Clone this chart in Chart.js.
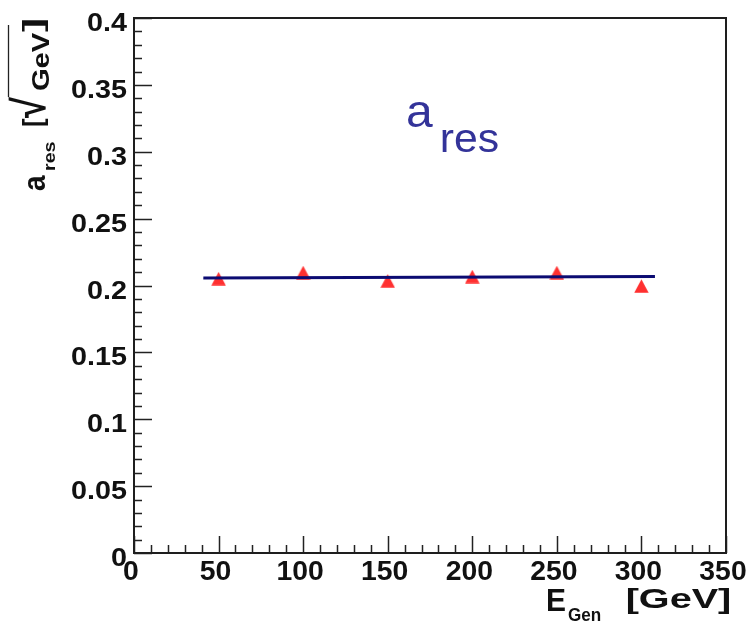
<!DOCTYPE html>
<html>
<head>
<meta charset="utf-8">
<script src="https://cdn.jsdelivr.net/npm/chart.js@4/dist/chart.umd.min.js"></script>
<style>
  html, body { margin: 0; padding: 0; background: #fff; }
  #wrap { width: 751px; height: 621px; }
</style>
</head>
<body>
<div id="wrap"><canvas id="c" width="751" height="621"></canvas></div>
<script>
// Generated energies [GeV] and fitted stochastic term a_res [sqrt(GeV)]
const energies = [50, 100, 150, 200, 250, 300];
const aRes = [0.2051, 0.2097, 0.2035, 0.2067, 0.2097, 0.1996];

// Straight-line fit over the measured points
const fitX = [41, 308];
const fitY = [0.2057, 0.2068];

// Axis ticks and their labels
const xTicks = [0, 50, 100, 150, 200, 250, 300, 350];
const xTickLabels = ['0', '50', '100', '150', '200', '250', '300', '350'];
const yTicks = [0, 0.05, 0.1, 0.15, 0.2, 0.25, 0.3, 0.35, 0.4];
const yTickLabels = ['0', '0.05', '0.1', '0.15', '0.2', '0.25', '0.3', '0.35', '0.4'];

const FONT = '"Liberation Sans", Arial, Helvetica, sans-serif';

// Upward triangle marker, centred on its bounding box
function makeTriangle(w, h, color) {
  const cv = document.createElement('canvas');
  cv.width = w;
  cv.height = h;
  const g = cv.getContext('2d');
  g.fillStyle = color;
  g.beginPath();
  g.moveTo(w / 2, 0.3);
  g.lineTo(w - 0.3, h - 0.3);
  g.lineTo(0.3, h - 0.3);
  g.closePath();
  g.fill();
  return cv;
}
const triangleMarker = makeTriangle(15, 14, '#ff3030');

// Draw text scaled so its ink box fills [L,R] x [T,B]
function fitInk(ctx, text, font, L, T, R, B) {
  ctx.save();
  ctx.font = font;
  ctx.textAlign = 'left';
  ctx.textBaseline = 'alphabetic';
  const m = ctx.measureText(text);
  const w = m.actualBoundingBoxLeft + m.actualBoundingBoxRight;
  const h = m.actualBoundingBoxAscent + m.actualBoundingBoxDescent;
  ctx.translate(L, T);
  ctx.scale((R - L) / w, (B - T) / h);
  ctx.fillText(text, m.actualBoundingBoxLeft, m.actualBoundingBoxAscent);
  ctx.restore();
}

// Text with a horizontal stretch factor
function stretchText(ctx, text, font, x, y, sx, align) {
  ctx.save();
  ctx.font = font;
  ctx.textBaseline = 'alphabetic';
  ctx.textAlign = 'left';
  const w = ctx.measureText(text).width * sx;
  let x0 = x;
  if (align === 'right') x0 = x - w;
  else if (align === 'center') x0 = x - w / 2;
  ctx.translate(x0, y);
  ctx.scale(sx, 1);
  ctx.fillText(text, 0, 0);
  ctx.restore();
}

const frameAndAxes = {
  id: 'frameAndAxes',
  beforeDraw(chart) {
    const ctx = chart.ctx;
    ctx.save();
    ctx.fillStyle = '#fff';
    ctx.fillRect(0, 0, chart.width, chart.height);
    ctx.restore();
  },
  afterDraw(chart) {
    const ctx = chart.ctx;
    const a = chart.chartArea;
    const xs = chart.scales.x, ys = chart.scales.y;

    ctx.save();
    // ticks on the left and bottom axes, pointing inward
    ctx.strokeStyle = '#222';
    ctx.lineWidth = 1.5;
    ctx.beginPath();
    for (let i = 0; i <= 40; i++) {
      const v = i * 0.01;
      const py = Math.round(ys.getPixelForValue(v)) + 0.5;
      const len = (i % 5 === 0) ? 18 : 8;
      ctx.moveTo(a.left, py);
      ctx.lineTo(a.left + len, py);
    }
    for (let i = 0; i <= 35; i++) {
      const v = i * 10;
      const px = Math.round(xs.getPixelForValue(v)) + 0.5;
      const len = (i % 5 === 0) ? 17 : 8;
      ctx.moveTo(px, a.bottom);
      ctx.lineTo(px, a.bottom - len);
    }
    ctx.stroke();

    // frame
    ctx.strokeStyle = '#1e1e1e';
    ctx.lineWidth = 2;
    ctx.strokeRect(a.left, a.top, a.right - a.left, a.bottom - a.top);

    // tick labels
    ctx.fillStyle = '#111';
    yTicks.forEach((v, i) => {
      const py = ys.getPixelForValue(v);
      stretchText(ctx, yTickLabels[i], 'bold 25px ' + FONT, 127, py + 13, 1.15, 'right');
    });
    xTicks.forEach((v, i) => {
      const px = xs.getPixelForValue(v);
      stretchText(ctx, xTickLabels[i], 'bold 27px ' + FONT, px - 3, 580, 1.05, 'center');
    });

    // x-axis title: E_Gen [GeV]
    fitInk(ctx, 'E', 'bold 30px ' + FONT, 548, 590, 565, 611);
    stretchText(ctx, 'Gen', 'bold 18px ' + FONT, 568, 621, 0.95, 'left');
    fitInk(ctx, '[GeV]', 'bold 30px ' + FONT, 627, 588, 730, 614);

    // y-axis title: a_res [sqrt(GeV)], rotated; (u, v) -> image (v, -u)
    ctx.save();
    ctx.rotate(-Math.PI / 2);
    fitInk(ctx, 'a', 'bold 28px ' + FONT, -191, 28, -175, 45);
    fitInk(ctx, 'res', 'bold 19px ' + FONT, -170, 45, -142, 55);
    fitInk(ctx, '[', 'bold 26px ' + FONT, -126, 21, -118, 47);
    fitInk(ctx, '\u221A', 'bold 26px ' + FONT, -118, 8, -96, 47);
    fitInk(ctx, 'GeV', 'bold 26px ' + FONT, -90, 32, -32, 49);
    fitInk(ctx, ']', 'bold 26px ' + FONT, -32, 21, -19, 47);
    ctx.strokeStyle = '#222';
    ctx.lineWidth = 1.3;
    ctx.beginPath();
    ctx.moveTo(-97, 8.5);
    ctx.lineTo(-25, 8.5);
    ctx.stroke();
    ctx.restore();

    // in-plot label a_res
    ctx.fillStyle = '#333399';
    fitInk(ctx, 'a', '48px ' + FONT, 408, 102, 433, 127);
    fitInk(ctx, 'res', '38px ' + FONT, 442, 130, 498, 152);
    ctx.restore();
  }
};

new Chart(document.getElementById('c'), {
  type: 'scatter',
  data: {
    datasets: [
      {
        label: 'fit',
        data: fitX.map((x, i) => ({ x: x, y: fitY[i] })),
        showLine: true,
        borderColor: '#0b0b72',
        borderWidth: 3,
        pointRadius: 0,
        order: 0
      },
      {
        label: 'a_res',
        data: energies.map((e, i) => ({ x: e, y: aRes[i] })),
        showLine: false,
        pointStyle: triangleMarker,
        pointRadius: 8,
        backgroundColor: '#ff3030',
        borderColor: '#ff3030',
        borderWidth: 0,
        order: 1
      }
    ]
  },
  options: {
    responsive: false,
    animation: false,
    devicePixelRatio: 1,
    layout: { padding: { left: 134, right: 25, top: 18, bottom: 68 } },
    scales: {
      x: { type: 'linear', min: 0, max: 350, display: false },
      y: { type: 'linear', min: 0, max: 0.4, display: false }
    },
    plugins: { legend: { display: false }, tooltip: { enabled: false } }
  },
  plugins: [frameAndAxes]
});
</script>
</body>
</html>
